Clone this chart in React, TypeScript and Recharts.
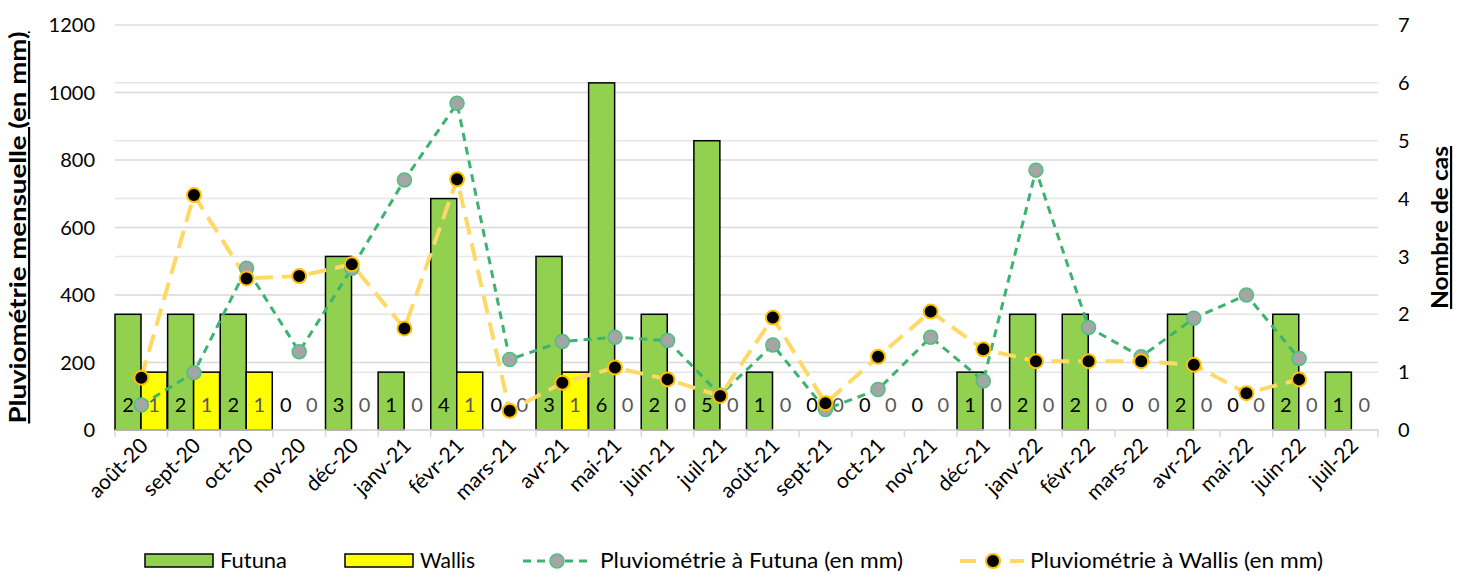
import React from 'react';
import { ComposedChart, Bar, Line, XAxis, YAxis, CartesianGrid } from 'recharts';

const months = ['août-20', 'sept-20', 'oct-20', 'nov-20', 'déc-20', 'janv-21', 'févr-21', 'mars-21', 'avr-21', 'mai-21', 'juin-21', 'juil-21', 'août-21', 'sept-21', 'oct-21', 'nov-21', 'déc-21', 'janv-22', 'févr-22', 'mars-22', 'avr-22', 'mai-22', 'juin-22', 'juil-22'];
const casFutuna = [2, 2, 2, 0, 3, 1, 4, 0, 3, 6, 2, 5, 1, 0, 0, 0, 1, 2, 2, 0, 2, 0, 2, 1];
const casWallis = [1, 1, 1, 0, 0, 0, 1, 0, 1, 0, 0, 0, 0, 0, 0, 0, 0, 0, 0, 0, 0, 0, 0, 0];
const pluieFutuna = [74, 170, 479, 232, 479, 741, 968, 209, 262, 275, 265, 104, 252, 61, 120, 275, 145, 770, 304, 217, 331, 400, 212, null];
const pluieWallis = [155, 696, 449, 456, 491, 301, 743, 57, 140, 185, 150, 101, 333, 79, 217, 351, 239, 204, 204, 204, 193, 109, 150, null];
const leftTicks = [0, 200, 400, 600, 800, 1000, 1200];
const rightTicks = [0, 1, 2, 3, 4, 5, 6, 7];

const rows = months.map((m, i) => ({
  m,
  futuna: casFutuna[i],
  wallis: casWallis[i],
  pf: pluieFutuna[i],
  pw: pluieWallis[i],
}));

const W = 1463;
const H = 575;
const M = { top: 25, right: 40, bottom: 55, left: 40 };
const LEFT_W = 75;
const RIGHT_W = 45;
const BAND = (W - M.left - M.right - LEFT_W - RIGHT_W) / months.length;
const FONT = 'Lato, "Open Sans", sans-serif';

const XTick = (props: any) => {
  const { x, y, payload, index } = props;
  return (
    <g transform={`translate(${x},${y - 8})`}>
      <line x1={-BAND / 2} x2={-BAND / 2} y1={0} y2={7} stroke="#d9d9d9" strokeWidth={1.5} />
      {index === months.length - 1 && (
        <line x1={BAND / 2} x2={BAND / 2} y1={0} y2={7} stroke="#d9d9d9" strokeWidth={1.5} />
      )}
      <text
        transform="translate(8, 17) rotate(-45)"
        textAnchor="end"
        fontSize={21}
        fill="#000"
        fontFamily={FONT}
      >
        {payload.value}
      </text>
    </g>
  );
};

// bar drawn with its count written near the bottom, zero counts included
const barShape = (fill: string, color: string) => (props: any) => {
  const { x, y, width, height, value } = props;
  const v = Array.isArray(value) ? value[1] - value[0] : value;
  return (
    <g>
      {height > 0 && (
        <rect x={x} y={y} width={width} height={height} fill={fill} stroke="#000" strokeWidth={1.5} />
      )}
      <text
        x={x + width / 2}
        y={y + height - 18}
        textAnchor="middle"
        fontSize={20}
        fill={color}
        fontFamily={FONT}
      >
        {v}
      </text>
    </g>
  );
};

const futunaDot = (props: any) => {
  const { cx, cy, key } = props;
  if (cy == null) return <g key={key} />;
  return <circle key={key} cx={cx} cy={cy} r={7} fill="#A5A5A5" stroke="#4CC17F" strokeWidth={1.5} />;
};

const wallisDot = (props: any) => {
  const { cx, cy, key } = props;
  if (cy == null) return <g key={key} />;
  return <circle key={key} cx={cx} cy={cy} r={7} fill="#000" stroke="#FFC000" strokeWidth={2} />;
};

function Legend() {
  const ty = 568;
  return (
    <svg width={W} height={40} style={{ position: 'absolute', left: 0, top: 540 }}>
      <g transform="translate(0,-540)" fontFamily={FONT} fontSize={21} fill="#000">
        <rect x={145} y={554} width={68} height={13} fill="#92D050" stroke="#000" strokeWidth={1.5} />
        <text x={220} y={ty} textLength={67} lengthAdjust="spacingAndGlyphs">Futuna</text>
        <rect x={345} y={554} width={68} height={13} fill="#FFFF00" stroke="#000" strokeWidth={1.5} />
        <text x={420} y={ty} textLength={55} lengthAdjust="spacingAndGlyphs">Wallis</text>
        <line x1={523} x2={590} y1={561} y2={561} stroke="#3CB371" strokeWidth={3} strokeDasharray="8 6" />
        <circle cx={557} cy={561} r={7} fill="#A5A5A5" stroke="#4CC17F" strokeWidth={1.5} />
        <text x={600} y={ty} textLength={303} lengthAdjust="spacingAndGlyphs">Pluviométrie à Futuna (en mm)</text>
        <line x1={960} x2={1024} y1={561} y2={561} stroke="#FFD966" strokeWidth={4} strokeDasharray="16 9" />
        <circle cx={993} cy={561} r={7} fill="#000" stroke="#FFC000" strokeWidth={2} />
        <text x={1030} y={ty} textLength={293} lengthAdjust="spacingAndGlyphs">Pluviométrie à Wallis (en mm)</text>
      </g>
    </svg>
  );
}

export default function App() {
  const plotTop = M.top;
  const plotBottom = H - M.bottom - 90;
  const midY = (plotTop + plotBottom) / 2;
  return (
    <div style={{ position: 'absolute', left: 0, top: 0, width: W, height: H, background: '#fff', fontFamily: FONT }}>
      <ComposedChart
        width={W}
        height={H}
        data={rows}
        margin={M}
        barCategoryGap={0}
        barGap={0}
      >
        <CartesianGrid yAxisId="left" horizontal vertical={false} stroke="#d9d9d9" strokeWidth={1.5} />
        <CartesianGrid yAxisId="right" horizontal vertical={false} stroke="#e6e6e6" strokeWidth={1.5} />
        <XAxis
          dataKey="m"
          interval={0}
          height={90}
          tick={<XTick />}
          tickLine={false}
          axisLine={{ stroke: '#d9d9d9', strokeWidth: 1.5 }}
        />
        <YAxis
          yAxisId="left"
          domain={[0, 1200]}
          ticks={leftTicks}
          width={LEFT_W}
          axisLine={false}
          tickLine={false}
          tickMargin={14}
          tick={{ fontSize: 20, fill: '#000', fontFamily: FONT }}
        />
        <YAxis
          yAxisId="right"
          orientation="right"
          domain={[0, 7]}
          ticks={rightTicks}
          width={RIGHT_W}
          axisLine={false}
          tickLine={false}
          tickMargin={14}
          tick={{ fontSize: 20, fill: '#000', fontFamily: FONT }}
        />
        <Bar yAxisId="right" dataKey="futuna" shape={barShape('#92D050', '#000')} isAnimationActive={false} />
        <Bar yAxisId="right" dataKey="wallis" shape={barShape('#FFFF00', '#595959')} isAnimationActive={false} />
        <Line
          yAxisId="left"
          dataKey="pf"
          stroke="#3CB371"
          strokeWidth={3}
          strokeDasharray="8 6"
          dot={futunaDot}
          activeDot={false}
          isAnimationActive={false}
        />
        <Line
          yAxisId="left"
          dataKey="pw"
          stroke="#FFD966"
          strokeWidth={4}
          strokeDasharray="18 9"
          dot={wallisDot}
          activeDot={false}
          isAnimationActive={false}
        />
        <text
          transform={`translate(26, ${midY}) rotate(-90)`}
          textAnchor="middle"
          fontSize={22}
          fontWeight="bold"
          textDecoration="underline"
          fontFamily={FONT}
          fill="#000"
          textLength={392}
          lengthAdjust="spacingAndGlyphs"
        >
          Pluviométrie mensuelle (en mm)
        </text>
        <text
          transform={`translate(1448, ${midY}) rotate(-90)`}
          textAnchor="middle"
          fontSize={22}
          fontWeight="bold"
          textDecoration="underline"
          fontFamily={FONT}
          fill="#000"
          textLength={163}
          lengthAdjust="spacingAndGlyphs"
        >
          Nombre de cas
        </text>
      </ComposedChart>
      <Legend />
    </div>
  );
}
